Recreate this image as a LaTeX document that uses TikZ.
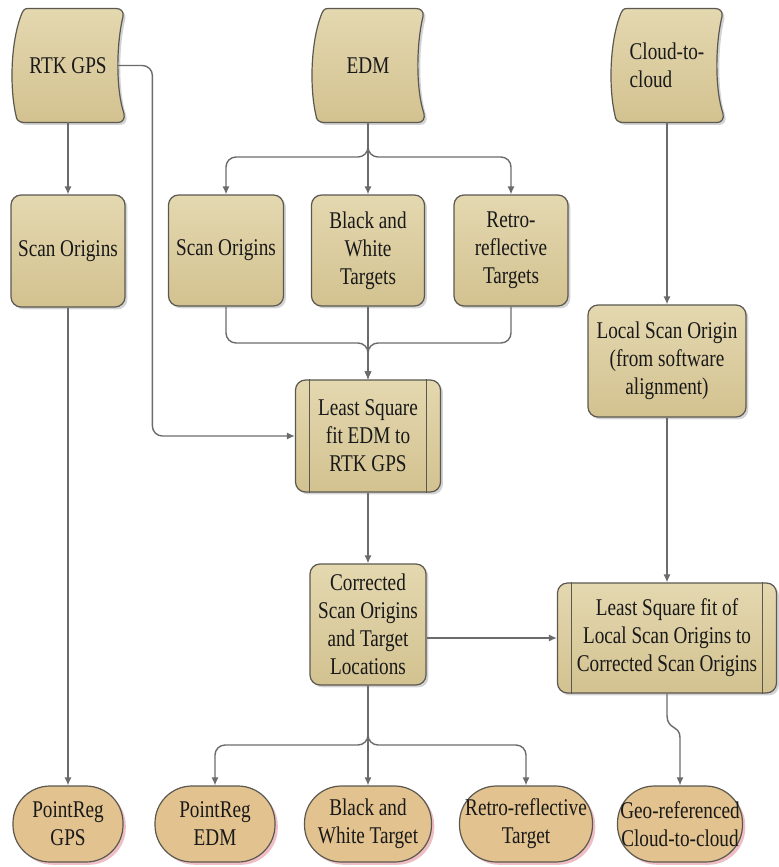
\documentclass[tikz,border=0pt]{standalone}
\usepackage{fontspec}
\setmainfont{Liberation Serif}[FakeStretch=0.8]
\usepackage{xcolor}
\usetikzlibrary{arrows.meta,calc,shadows,backgrounds}
\definecolor{BoxTop}{HTML}{E4D8B0}
\definecolor{BoxBot}{HTML}{D3C290}
\definecolor{EndFill}{HTML}{E2C28E}
\definecolor{EndShade}{HTML}{E7A3AB}
\definecolor{Edge}{HTML}{5A5850}
\definecolor{Wire}{HTML}{6B6B6B}

\begin{document}
\begin{tikzpicture}[x=0.5pt, y=-0.5pt, font=\fontsize{12}{14}\selectfont, >={Latex[length=4pt,width=3.6pt]}]
\tikzset{box/.style={draw=Edge, line width=0.6pt, rounded corners=5pt, align=center, top color=BoxTop, bottom color=BoxBot, text=black!90, inner sep=1pt, drop shadow={opacity=0.35, shadow xshift=1.2pt, shadow yshift=-1.2pt}}, endbox/.style={draw=Edge, line width=0.6pt, rounded corners=18.5pt, align=center, fill=EndFill, text=black!90, inner sep=0pt, minimum height=38pt, drop shadow={fill=EndShade, opacity=0.7, shadow xshift=1.4pt, shadow yshift=-1.4pt}}, tape/.style={align=center, text=black!90, minimum width=54pt, minimum height=56.5pt}, datashp/.style={draw=Edge, line width=0.6pt, top color=BoxTop, bottom color=BoxBot, drop shadow={opacity=0.35, shadow xshift=1.2pt, shadow yshift=-1.2pt}}, conn/.style={draw=Wire, line width=0.7pt, rounded corners=5pt, ->}}
\useasboundingbox (0,0) rectangle (778,867);
\node[tape] (rtk) at (68,65.5) {RTK GPS};
\node[tape] (edm) at (368,65.5) {EDM};
\node[tape, align=left] (c2c) at (667,65.5) {Cloud-to-\\cloud};
\node[box, minimum width=57pt, minimum height=56pt] (so0) at (68,251) {Scan Origins};
\node[box, minimum width=57.5pt, minimum height=55.5pt] (so1) at (226,250.5) {Scan Origins};
\node[box, minimum width=56.5pt, minimum height=55.5pt] (bw) at (368,250.5) {Black and\\White\\Targets};
\node[box, minimum width=57pt, minimum height=55.5pt] (rr) at (511,250.5) {Retro-\\reflective\\Targets};
\node[box, minimum width=79pt, minimum height=56pt] (loc) at (667,361) {Local Scan Origin\\(from software\\alignment)};
\node[box, minimum width=72.5pt, minimum height=56pt] (lsq) at (368,436) {Least Square\\fit EDM to\\RTK GPS};
\node[box, minimum width=58pt, minimum height=60.5pt] (cor) at (368,624.5) {Corrected\\Scan Origins\\and Target\\Locations};
\node[box, minimum width=109.5pt, minimum height=55pt] (ls2) at (667,638) {Least Square fit of\\Local Scan Origins to\\Corrected Scan Origins};
\node[endbox, minimum width=55pt] (pgps) at (68,824) {PointReg\\GPS};
\node[endbox, minimum width=60pt] (pedm) at (215,824) {PointReg\\EDM};
\node[endbox, minimum width=63.5pt] (pbw) at (368,824) {Black and\\White Target};
\node[endbox, minimum width=66.5pt] (prr) at (526,824) {Retro-reflective\\Target};
\node[endbox, minimum width=62.5pt] (geo) at (680,824) {Geo-referenced\\Cloud-to-cloud};
\begin{scope}[on background layer]
\foreach \n in {rtk,edm,c2c} \draw[datashp, shift={(\n.center)}] (-40,-57) -- (48,-57) .. controls (53,-57) and (56,-54) .. (55,-49) .. controls (48,-20) and (48,25) .. (56,48) .. controls (57,53) and (55,57) .. (50,57) -- (-44,57) .. controls (-49,57) and (-52,54) .. (-52,50) .. controls (-58,25) and (-58,-20) .. (-47,-50) .. controls (-45,-55) and (-44,-57) .. (-40,-57) -- cycle;
\end{scope}
\foreach \n in {lsq,ls2} {\draw[Edge, line width=0.5pt] ([xshift=7.5pt]\n.north west) -- ([xshift=7.5pt]\n.south west); \draw[Edge, line width=0.5pt] ([xshift=-7.5pt]\n.north east) -- ([xshift=-7.5pt]\n.south east);}
\coordinate (esplit) at (368,157);
\coordinate (emerge) at (368,343);
\coordinate (csplit) at (368,745);
\draw[conn] (rtk.south) -- (so0.north); \draw[conn] (so0.south) -- (pgps.north);
\draw[conn] ([xshift=-2.5pt]rtk.east) -- ++(35,0) |- (lsq.west);
\draw[conn] (edm.south) -- (esplit) -| (so1.north); \draw[conn] (edm.south) -- (esplit) -| (rr.north); \draw[conn] (edm.south) -- (bw.north);
\draw[conn] (so1.south) |- (emerge) -- (lsq.north); \draw[conn] (rr.south) |- (emerge) -- (lsq.north); \draw[conn] (bw.south) -- (lsq.north);
\draw[conn] (lsq.south) -- (cor.north);
\draw[conn] (cor.east |- ls2.west) -- (ls2.west);
\draw[conn] (c2c.south) -- (loc.north); \draw[conn] (loc.south) -- (ls2.north);
\draw[conn, sharp corners] (ls2.south) -- ++(0,22) .. controls +(0,14) and +(0,-12) .. ($(geo.north)+(0,-48)$) -- (geo.north);
\draw[conn] (cor.south) -- (csplit) -| (pedm.north); \draw[conn] (cor.south) -- (csplit) -| (prr.north); \draw[conn] (cor.south) -- (pbw.north);
\end{tikzpicture}
\end{document}
